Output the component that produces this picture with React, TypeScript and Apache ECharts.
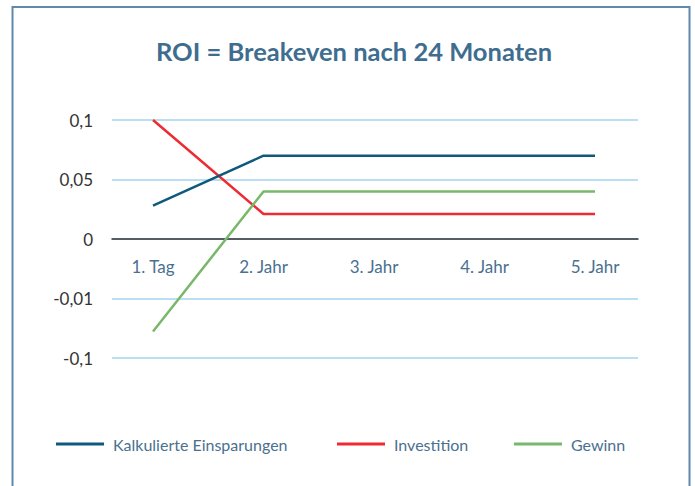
import React, { useEffect, useRef } from "react";
import * as echarts from "echarts";

const categories = ["1. Tag", "2. Jahr", "3. Jahr", "4. Jahr", "5. Jahr"];
const seriesNames = ["Kalkulierte Einsparungen", "Investition", "Gewinn"];
const einsparungen = [0.028, 0.07, 0.07, 0.07, 0.07];
const investition = [0.1, 0.021, 0.021, 0.021, 0.021];
const gewinn = [-0.06, 0.04, 0.04, 0.04, 0.04];
// The original axis is not linear: ticks are equally spaced
const yTickValues = [-0.1, -0.01, 0, 0.05, 0.1];
const yTickLabels = ["-0,1", "-0,01", "0", "0,05", "0,1"];

const colors = ["#0f5a7c", "#ee2a32", "#79b86b"];
const FONT = "Lato, 'Open Sans', sans-serif";

// map a value onto the evenly spaced tick scale (position -2..2)
function toPos(v: number): number {
  for (let i = 0; i < yTickValues.length - 1; i++) {
    const a = yTickValues[i];
    const b = yTickValues[i + 1];
    if (v >= a && v <= b) return i - 2 + (v - a) / (b - a);
  }
  return v < yTickValues[0] ? -2 : 2;
}

export default function App() {
  const ref = useRef<HTMLDivElement>(null);
  useEffect(() => {
    document.body.style.margin = "0";
    if (!ref.current) return;
    const chart = echarts.init(ref.current, null, { renderer: "svg" });
    const data = [einsparungen, investition, gewinn];
    const top = 120;
    const bottom = 486 - 358;
    const legendLefts = [51, 332, 509];
    chart.setOption({
      animation: false,
      backgroundColor: "#ffffff",
      title: {
        text: "ROI = Breakeven nach 24 Monaten",
        left: 349,
        textAlign: "center",
        top: 33,
        textStyle: { fontFamily: FONT, fontSize: 25.5, fontWeight: "bold", color: "#3e6d8f" },
      },
      graphic: [
        {
          type: "rect",
          shape: { x: 12.5, y: 7, width: 677, height: 500 },
          style: { fill: "none", stroke: "#5f8aad", lineWidth: 2 },
          silent: true,
        },
      ],
      legend: seriesNames.map((n, i) => ({
        data: [n],
        left: legendLefts[i],
        top: 431,
        icon: "rect",
        itemWidth: 48,
        itemHeight: 3,
        textStyle: {
          fontFamily: FONT,
          fontSize: 16,
          color: "#4a7090",
          padding: [0, 0, 0, 4],
        },
      })),
      grid: [
        { left: 112, right: 695 - 638, top, bottom },
        { left: 153, right: 695 - 595, top, bottom },
      ],
      xAxis: [
        {
          gridIndex: 0,
          type: "value",
          min: 0,
          max: 1,
          axisLabel: { show: false },
          axisTick: { show: false },
          splitLine: { show: false },
          axisLine: { show: true, onZero: true, lineStyle: { color: "#333", width: 1.5 } },
        },
        {
          gridIndex: 1,
          type: "category",
          data: categories,
          boundaryGap: false,
          position: "bottom",
          offset: -120,
          axisLine: { show: false, onZero: false },
          axisTick: { show: false },
          axisLabel: { margin: 20, fontFamily: FONT, fontSize: 17, color: "#4a7090" },
          splitLine: { show: false },
        },
      ],
      yAxis: [
        {
          gridIndex: 0,
          type: "value",
          min: -2,
          max: 2,
          interval: 1,
          axisLine: { show: false },
          axisTick: { show: false },
          axisLabel: {
            margin: 19,
            fontFamily: FONT,
            fontSize: 17,
            color: "#333",
            formatter: (v: number) => yTickLabels[Math.round(v) + 2],
          },
          splitLine: { show: true, lineStyle: { color: "#a3d5ef", width: 1.5 } },
        },
        {
          gridIndex: 1,
          type: "value",
          min: -2,
          max: 2,
          interval: 1,
          axisLine: { show: false },
          axisTick: { show: false },
          axisLabel: { show: false },
          splitLine: { show: false },
        },
      ],
      series: seriesNames.map((n, i) => ({
        name: n,
        type: "line",
        xAxisIndex: 1,
        yAxisIndex: 1,
        symbol: "none",
        data: data[i].map(toPos),
        lineStyle: { color: colors[i], width: 2.5 },
        itemStyle: { color: colors[i] },
        z: 3 + (i === 0 ? 1 : 0),
      })),
    });
    return () => chart.dispose();
  }, []);
  return <div ref={ref} style={{ width: 695, height: 486 }} />;
}
